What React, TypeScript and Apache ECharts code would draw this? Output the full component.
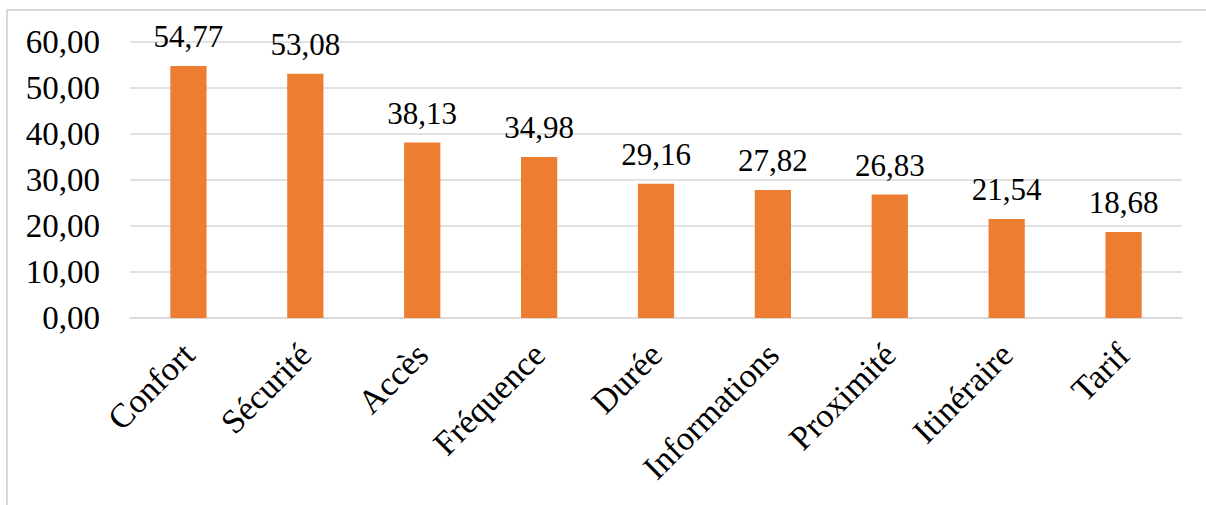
import React, { useEffect, useRef } from "react";
import * as echarts from "echarts";

const categories = ["Confort", "Sécurité", "Accès", "Fréquence", "Durée", "Informations", "Proximité", "Itinéraire", "Tarif"];
const values = [54.77, 53.08, 38.13, 34.98, 29.16, 27.82, 26.83, 21.54, 18.68];
const yTicks = { min: 0, max: 60, interval: 10 };

const FONT = "Liberation Serif";
const fmt = (v: number) => v.toFixed(2).replace(".", ",");

export default function App() {
  const ref = useRef<HTMLDivElement>(null);
  useEffect(() => {
    if (!ref.current) return;
    const chart = echarts.init(ref.current, undefined, { renderer: "svg" });
    chart.setOption({
      animation: false,
      backgroundColor: "#ffffff",
      textStyle: { fontFamily: FONT },
      graphic: [
        {
          type: "rect",
          shape: { x: 7, y: 10, width: 1220, height: 520 },
          style: { fill: "none", stroke: "#d9d9d9", lineWidth: 2 },
          silent: true,
        },
      ],
      grid: { left: 130, right: 24, top: 42, bottom: 187 },
      xAxis: {
        type: "category",
        data: categories,
        axisLine: { show: true, lineStyle: { color: "#d9d9d9", width: 1.5 } },
        axisTick: { show: false },
        axisLabel: {
          rotate: 45,
          interval: 0,
          margin: 31,
          color: "#000000",
          fontFamily: FONT,
          fontSize: 34,
        },
      },
      yAxis: {
        type: "value",
        min: yTicks.min,
        max: yTicks.max,
        interval: yTicks.interval,
        axisLine: { show: false },
        axisTick: { show: false },
        splitLine: { lineStyle: { color: "#d9d9d9", width: 1.5 } },
        axisLabel: {
          margin: 30,
          color: "#000000",
          fontFamily: FONT,
          fontSize: 33,
          formatter: (v: number) => fmt(v),
        },
      },
      series: [
        {
          type: "bar",
          data: values,
          barWidth: "31%",
          itemStyle: { color: "#ED7D31" },
          label: {
            show: true,
            position: "top",
            distance: 14,
            color: "#000000",
            fontFamily: FONT,
            fontSize: 31,
            formatter: (p: any) => fmt(p.value),
          },
        },
      ],
    });
    return () => chart.dispose();
  }, []);
  return <div ref={ref} style={{ position: "fixed", left: 0, top: 0, width: 1206, height: 505 }} />;
}
